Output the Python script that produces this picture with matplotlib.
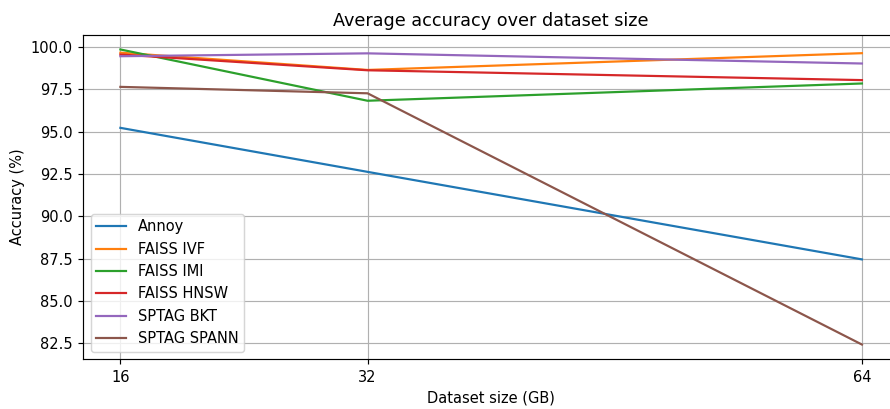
import matplotlib
matplotlib.use("Agg")
import matplotlib.pyplot as plt

sizes = [16, 32, 64]
annoy = [95.22, 92.62, 87.45]
faiss_ivf = [99.66, 98.64, 99.63]
faiss_imi = [99.85, 96.82, 97.84]
faiss_hnsw = [99.55, 98.62, 98.04]
sptag_bkt = [99.45, 99.62, 99.02]
sptag_spann = [97.64, 97.26, 82.42]

series = [
    ("Annoy", annoy),
    ("FAISS IVF", faiss_ivf),
    ("FAISS IMI", faiss_imi),
    ("FAISS HNSW", faiss_hnsw),
    ("SPTAG BKT", sptag_bkt),
    ("SPTAG SPANN", sptag_spann),
]

W, H = 890, 409
DPI = 105.5
fig = plt.figure(figsize=(W / DPI, H / DPI), dpi=DPI)
left, right, top, bottom = 83.3, 899.0, 34.7, 359.3
ax = fig.add_axes([left / W, (H - bottom) / H, (right - left) / W, (bottom - top) / H])

for name, vals in series:
    ax.plot(sizes, vals, label=name)

ax.set_xticks(sizes)
ax.set_xticklabels([str(s) for s in sizes])
ax.set_title("Average accuracy over dataset size")
ax.set_xlabel("Dataset size (GB)")
ax.set_ylabel("Accuracy (%)")
ax.grid(True)
ax.spines["right"].set_visible(False)
ax.legend(loc="lower left")

fig.savefig("out.png", dpi=DPI)
